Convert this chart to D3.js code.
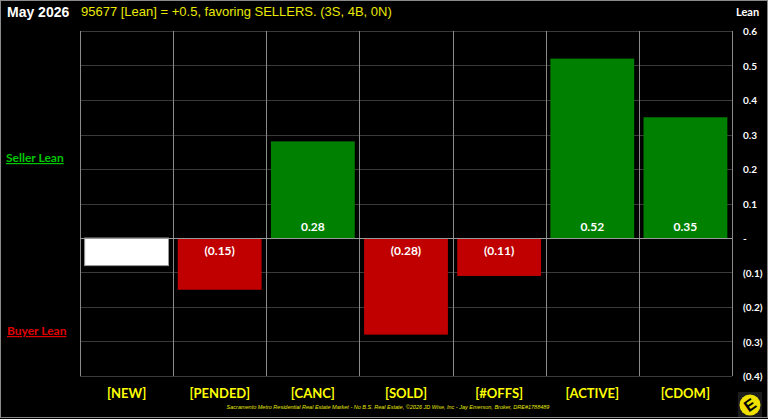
<!DOCTYPE html>
<html>
<head>
<meta charset="utf-8">
<script src="https://cdn.jsdelivr.net/npm/d3@7"></script>
<style>
  body { margin: 0; background: #000; }
  svg { display: block; }
</style>
</head>
<body>
<div id="chart"></div>
<script>
// Data
var categories = ["[NEW]", "[PENDED]", "[CANC]", "[SOLD]", "[#OFFS]", "[ACTIVE]", "[CDOM]"];
var leanValues = [-0.08, -0.15, 0.28, -0.28, -0.11, 0.52, 0.35];
var yTicks = [0.6, 0.5, 0.4, 0.3, 0.2, 0.1, 0, -0.1, -0.2, -0.3, -0.4];
var titleText = "May 2026";
var subtitleText = "95677 [Lean] = +0.5, favoring SELLERS. (3S, 4B, 0N)";
var footerText = "Sacramento Metro Residential Real Estate Market - No B.S. Real Estate, \u00a92026 JD Wise, Inc - Jay Emerson, Broker, DRE#1788489";

var W = 768, H = 419;
var margin = { top: 31, right: 36, bottom: 43, left: 80 },
    width = W - margin.left - margin.right,
    height = H - margin.top - margin.bottom;

var svg = d3.select("#chart").append("svg")
    .attr("width", W)
    .attr("height", H);

// background + frame
svg.append("rect")
    .attr("x", 0.5).attr("y", 0.5)
    .attr("width", W - 1).attr("height", H - 2)
    .attr("fill", "#000")
    .attr("stroke", "#8a8a8a");

var g = svg.append("g")
    .attr("transform", "translate(" + margin.left + "," + margin.top + ")");

// Scales
var x = d3.scaleBand().domain(categories).range([0, width]).paddingInner(0.1).paddingOuter(0.05);
var y = d3.scaleLinear().domain([-0.4, 0.6]).range([height, 0]);

// horizontal grid
g.selectAll(".hgrid")
    .data(yTicks.filter(function (d) { return d !== 0; }))
    .enter().append("line")
    .attr("x1", 0).attr("x2", width)
    .attr("y1", function (d) { return Math.round(y(d)) + 0.5; })
    .attr("y2", function (d) { return Math.round(y(d)) + 0.5; })
    .attr("stroke", "#3a3a3a");

// vertical category separators
var step = width / categories.length;
g.selectAll(".vgrid")
    .data(d3.range(categories.length + 1))
    .enter().append("line")
    .attr("x1", function (i) { return Math.round(i * step) + 0.5; })
    .attr("x2", function (i) { return Math.round(i * step) + 0.5; })
    .attr("y1", 0).attr("y2", height)
    .attr("stroke", "#8a8a8a");

// Bars
g.selectAll(".bar")
    .data(leanValues)
    .enter().append("rect")
    .attr("x", function (d, i) { return x(categories[i]); })
    .attr("width", x.bandwidth())
    .attr("y", function (d) { return y(Math.max(0, d)); })
    .attr("height", function (d) { return Math.abs(y(d) - y(0)); })
    .attr("fill", function (d, i) { return i === 0 ? "#ffffff" : (d >= 0 ? "#008000" : "#c00000"); })
    .attr("stroke", function (d, i) { return i === 0 ? "#9a9a9a" : "none"; });

// zero line
g.append("line")
    .attr("x1", 0).attr("x2", width)
    .attr("y1", Math.round(y(0)) + 0.5).attr("y2", Math.round(y(0)) + 0.5)
    .attr("stroke", "#9a9a9a");

// Bar labels
var fmt = function (d) {
    var s = Math.abs(d).toFixed(2);
    return d < 0 ? "(" + s + ")" : s;
};
g.selectAll(".blabel")
    .data(leanValues)
    .enter().append("text")
    .attr("x", function (d, i) { return x(categories[i]) + x.bandwidth() / 2; })
    .attr("y", function (d) { return d >= 0 ? y(0) - 7 : y(0) + 17; })
    .attr("text-anchor", "middle")
    .attr("fill", "#fff")
    .style("font", "bold 12px Lato, 'Open Sans', sans-serif")
    .text(function (d) { return fmt(d); });

// Right axis labels
g.selectAll(".ylabel")
    .data(yTicks)
    .enter().append("text")
    .attr("x", width + 11)
    .attr("y", function (d) { return y(d) + 4; })
    .attr("fill", "#fff")
    .style("font", "bold 10px Lato, 'Open Sans', sans-serif")
    .text(function (d) {
        if (d === 0) return "-";
        var s = Math.abs(d).toFixed(1);
        return d < 0 ? "(" + s + ")" : s;
    });

svg.append("text")
    .attr("x", 736).attr("y", 16)
    .attr("fill", "#fff")
    .style("font", "bold 11px Lato, 'Open Sans', sans-serif")
    .text("Lean");

// Category labels
g.selectAll(".xlabel")
    .data(categories)
    .enter().append("text")
    .attr("x", function (d) { return x(d) + x.bandwidth() / 2; })
    .attr("y", height + 22)
    .attr("text-anchor", "middle")
    .attr("fill", "#ffff00")
    .style("font", "bold 13px Lato, 'Open Sans', sans-serif")
    .text(function (d) { return d; });

// Titles
svg.append("text")
    .attr("x", 7).attr("y", 17)
    .attr("fill", "#fff")
    .style("font", "bold 14px 'Liberation Sans', Arial, sans-serif")
    .text(titleText);

svg.append("text")
    .attr("x", 81).attr("y", 16)
    .attr("fill", "#e8e800")
    .style("font", "13px 'Liberation Sans', Arial, sans-serif")
    .text(subtitleText);

// Side labels
svg.append("text")
    .attr("x", 6).attr("y", 162)
    .attr("fill", "#00c800")
    .attr("text-decoration", "underline")
    .style("font", "bold 12px Lato, 'Open Sans', sans-serif")
    .text("Seller Lean");

svg.append("text")
    .attr("x", 7).attr("y", 335)
    .attr("fill", "#e00000")
    .attr("text-decoration", "underline")
    .style("font", "bold 12px Lato, 'Open Sans', sans-serif")
    .text("Buyer Lean");

// Footer
svg.append("text")
    .attr("x", 388).attr("y", 409)
    .attr("text-anchor", "middle")
    .attr("fill", "#e8e800")
    .style("font", "italic 5.5px 'Liberation Sans', Arial, sans-serif")
    .text(footerText);

// Logo
var logo = svg.append("g").attr("transform", "translate(750,405)");
logo.append("rect").attr("x", -12).attr("y", -13).attr("width", 24).attr("height", 25).attr("fill", "#1c1c1c");
logo.append("circle").attr("r", 10.5).attr("fill", "#f0e000");
logo.append("text")
    .attr("text-anchor", "middle")
    .attr("y", 5.5)
    .attr("transform", "rotate(-35)")
    .attr("fill", "#000")
    .style("font", "bold 16px 'Liberation Sans', Arial, sans-serif")
    .text("E");
</script>
</body>
</html>
